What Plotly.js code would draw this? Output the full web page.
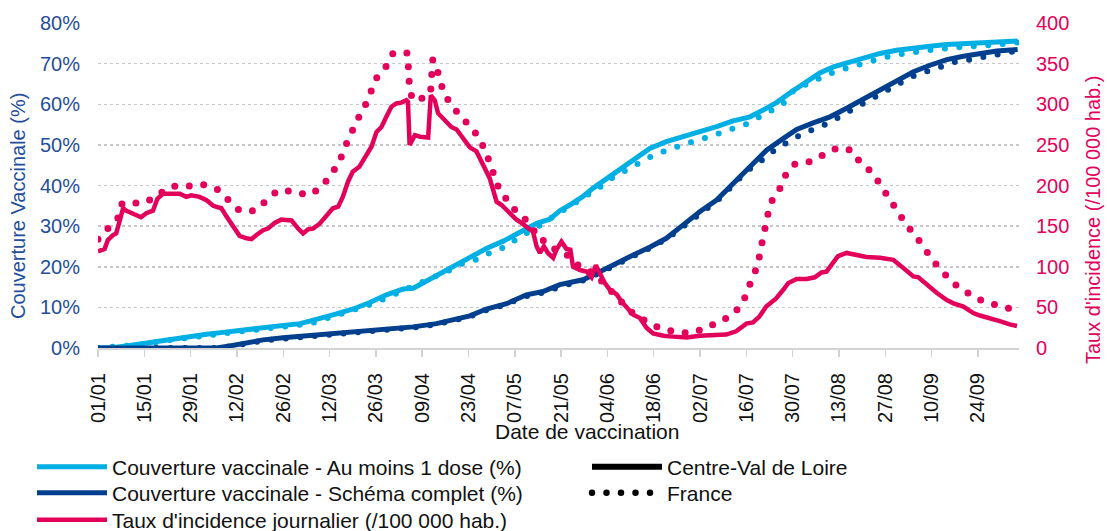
<!DOCTYPE html>
<html>
<head>
<meta charset="utf-8">
<script src="https://cdn.plot.ly/plotly-3.0.1.min.js"></script>
<style>
  html, body { margin: 0; padding: 0; background: #fff; }
  #chart { width: 1107px; height: 531px; }
</style>
</head>
<body>
<div id="chart"></div>
<script>
// jours comptés depuis le 01/01/2021
const incCvlDays = [0, 2, 3, 4.5, 5.5, 6.5, 7.6, 8.6, 10.6, 13, 14.6, 16.6, 18, 19.7, 21.7, 24.7, 26.7, 28.2, 30.7, 32.8, 34.8, 37.3, 38.8, 40.8, 42.8, 44.9, 46.4, 47.9, 49.9, 51.4, 53.4, 55.4, 57, 58.5, 60.5, 62, 63.5, 65, 67, 69, 71, 72.6, 74, 75.6, 77, 79, 81, 82.7, 84.2, 85.7, 87.2, 88.7, 90.2, 91.7, 93.2, 93.7, 94.2, 95.8, 97.3, 99.8, 100.6, 101.8, 102.8, 104.8, 106.8, 108.4, 110.4, 112.4, 114.4, 116.4, 118.4, 120.5, 122, 124, 126.5, 128, 130, 131.5, 132.6, 133.6, 134.8, 136, 137.6, 138.6, 140.1, 141.6, 142.8, 143.6, 145.7, 147.7, 149.2, 150.5, 151.7, 153.2, 154.7, 156.8, 158.3, 160.3, 161.8, 163.8, 165.8, 167.8, 170.9, 173.9, 177.9, 181.9, 186.9, 189.9, 192.9, 196, 198, 200, 202, 205, 207.2, 208.7, 211.2, 214.2, 216.7, 218.7, 220.2, 222.2, 223.7, 226.3, 229.3, 232.3, 236.4, 240.4, 242.4, 244.5, 246.5, 248, 250.5, 253.5, 256.6, 258.6, 261.6, 264.6, 266.6, 269.6, 272.6, 275.6, 277.8];
const incCvl = [119, 122, 133, 139, 141, 158, 172, 169, 165, 161, 166, 169, 184, 190, 190, 190, 186, 188, 186, 182, 175, 172, 162, 150, 138, 135, 134, 139, 145, 147, 154, 158, 157, 157, 147, 141, 146, 147, 153, 162, 172, 174, 186, 205, 217, 223, 237, 248, 266, 272, 285, 297, 301, 302, 305, 303, 250, 262, 260, 259, 311, 305, 289, 281, 272, 269, 258, 247, 242, 225, 209, 180, 176, 168, 158, 154, 147, 143, 125, 117, 125, 117, 111, 121, 131, 122, 121, 100, 96, 94, 87, 102, 92, 80, 72, 66, 57, 47, 41, 37, 25, 18, 15, 14, 13, 15, 15.5, 16.5, 20.5, 30, 31.5, 39, 51, 61, 72, 80, 85, 85, 87, 93, 94, 105, 113, 117, 115, 112, 111, 108.5, 102, 94, 88, 87, 78, 68, 59, 55, 51, 43, 40, 37, 33, 29, 27];

const incFrDays = [0, 3.3, 6, 7.3, 10, 14.4, 18.1, 22.4, 27, 31.8, 36.1, 39.5, 42.8, 47.4, 50.9, 54.4, 59, 63.5, 67.5, 70.3, 72.9, 74.6, 76.4, 78.4, 80.6, 82.4, 84.3, 87, 89.2, 93.6, 93.9, 94.1, 95, 97.8, 100.5, 101.2, 102, 104.3, 106.5, 109.6, 112.6, 115.4, 117.2, 119, 120.2, 122.5, 124.9, 127.9, 131, 133.5, 135.2, 138, 141, 144, 147, 150, 153, 156, 158.5, 161, 164.8, 169, 173.7, 178.4, 183, 187.3, 191.5, 194.3, 196, 197.6, 199.4, 200.3, 201.2, 202, 203.2, 205.8, 207.5, 210.4, 214.9, 219.2, 223.5, 227.8, 230.5, 234.1, 236.7, 239.2, 241.7, 244.3, 247.2, 249.7, 252.6, 255.5, 258.8, 262.8, 266.8, 271.4, 275.9, 278];
const incFr = [134, 147, 160, 178, 178, 179, 189, 199, 199, 201, 195, 182, 169, 169, 182, 194, 193, 188, 197, 214, 228, 247, 264, 281, 297, 315, 333, 346, 363, 363, 344, 325, 305, 307, 313, 355, 350, 317, 300, 287, 272, 258, 240, 223, 204, 190, 174, 164, 150, 133, 132, 122, 118, 105, 97, 92, 80, 66, 55, 45, 35, 26, 20.5, 18.4, 23, 31.5, 40, 52, 66, 85, 101, 121, 140, 159, 178, 193, 211, 226, 229, 237.5, 246.5, 243.6, 228, 216, 200, 183, 168, 152, 138, 122, 106.5, 93, 79, 68, 59, 53, 48, 46];

const dose1CvlDays = [0, 5, 9.6, 14.6, 18.6, 23.7, 27.7, 32.8, 37.8, 42.8, 47.9, 53.9, 61, 64, 68, 72.1, 77.1, 82.2, 87.2, 92.2, 95.3, 97.3, 102.3, 107.4, 112.4, 117.4, 122.5, 127.5, 132.6, 136.6, 139.6, 142.6, 146.6, 149.6, 154.7, 158.7, 162.8, 166.8, 171.8, 176.9, 182, 187, 192, 197.1, 201.1, 205.1, 209.2, 212.2, 215.2, 218.2, 222.3, 226.3, 231.3, 236.4, 241.4, 246.5, 251.5, 256.6, 261.6, 266.7, 271.7, 278];
const dose1Cvl = [0, 0.1, 0.6, 1.2, 1.9, 2.5, 3.0, 3.4, 3.85, 4.3, 4.7, 5.3, 6.0, 6.6, 7.4, 8.4, 9.6, 11.2, 13.1, 14.5, 14.7, 15.6, 17.6, 19.9, 22.1, 24.5, 26.3, 28.5, 30.7, 31.7, 33.8, 35.2, 37.3, 39.3, 42.3, 44.6, 47.1, 49.1, 50.8, 52, 53.2, 54.5, 55.9, 56.9, 58.6, 60.4, 62.8, 64.5, 66.1, 67.7, 69.2, 70.2, 71.4, 72.5, 73.3, 73.9, 74.3, 74.7, 74.9, 75.2, 75.4, 75.6];

const dose1FrDays = [0, 10, 15, 20, 25, 30, 35, 40, 45, 50, 55, 60, 65, 71.1, 76.1, 84.1, 88.7, 93.2, 97.8, 101.8, 106.4, 110.7, 114.9, 119.4, 123.5, 127.5, 131.5, 135.6, 138.6, 143.1, 147.2, 151.2, 155.3, 159.3, 163.3, 167.6, 172, 176.6, 181.2, 185.8, 190.2, 194.8, 199, 202.9, 207, 210.4, 214.7, 218.7, 223.3, 227.6, 232, 236.8, 241.4, 246.2, 250.8, 255.5, 260.1, 264.6, 269.2, 273.2, 278];
const dose1Fr = [0, 0.5, 1.0, 1.8, 2.4, 2.9, 3.3, 3.8, 4.2, 4.6, 5.1, 5.6, 6.2, 7.8, 8.8, 11.2, 12.9, 14.5, 16, 17.2, 19.2, 21, 21.9, 23.8, 25, 27.4, 29.1, 31.3, 32.8, 35.2, 37.5, 39.3, 41.8, 43.7, 45.6, 47.3, 48.7, 50.1, 51.2, 52.2, 53.6, 54.6, 56.4, 58.4, 60.0, 63.5, 65.3, 66.6, 68.2, 69.2, 70.4, 71.3, 72.2, 72.9, 73.3, 73.7, 74.1, 74.3, 74.5, 74.8, 75.2];

const fullCvlDays = [0, 35.8, 39.8, 43.9, 49.9, 55.9, 62, 68, 77.1, 87.2, 95.3, 102.3, 107.4, 112.4, 117.4, 123.5, 129.5, 134.5, 139.6, 146.6, 151.7, 156.8, 161.8, 166.8, 171.8, 176.9, 182, 187, 192, 197.1, 202.1, 207.2, 211.2, 216.2, 221.3, 226.3, 231.3, 236.4, 241.4, 246.5, 251.5, 256.6, 261.6, 266.7, 271.7, 278];
const fullCvl = [0, 0.0, 0.5, 1.2, 2.0, 2.5, 2.9, 3.3, 3.85, 4.5, 5.2, 6.0, 7.0, 7.9, 9.6, 10.9, 13.1, 13.9, 15.6, 16.8, 18.8, 20.7, 22.9, 24.8, 27, 30.3, 33.6, 36.4, 40.5, 44.6, 48.7, 51.6, 53.8, 55.4, 56.9, 59, 61.2, 63.5, 65.5, 68, 69.6, 71, 71.8, 72.5, 73.1, 73.5];

const fullFrDays = [0, 36, 40, 44, 50, 56, 62, 68, 77, 87, 95, 102, 107, 112, 117, 123, 129, 134.5, 140, 146.6, 151.7, 156.8, 161.8, 166.8, 171.8, 176.9, 182, 187, 192, 196, 200.2, 204.2, 208.3, 212.2, 216.2, 220.8, 225, 229, 233.3, 237.5, 241.4, 245.4, 250.2, 254.5, 259.1, 263.6, 268.7, 273.2, 278];
const fullFr = [0, 0, 0.4, 1.0, 1.8, 2.3, 2.7, 3.1, 3.6, 4.3, 5.0, 5.8, 6.7, 7.6, 9.2, 10.6, 12.7, 13.6, 15.2, 16.6, 18.5, 20.5, 22.7, 24.6, 26.8, 30.0, 33.2, 36.1, 40.1, 43.5, 45.9, 48.5, 50.6, 52.4, 53.8, 55.3, 57.3, 59, 61, 63, 64.7, 66.6, 68, 69.2, 70.4, 71, 71.8, 72.2, 73.2];

const cLight = '#00afe3';
const cDark = '#003f8e';
const cPink = '#e3005b';
const cAxisBlue = '#1f4e9c';
const dots = '0px,14.5px';

// jour -> date (chaîne lisible par plotly)
function toDate(n) {
    const d = new Date(Date.UTC(2021, 0, 1) + n * 86400000);
    return d.toISOString().slice(0, 16).replace('T', ' ');
}
const dates = arr => arr.map(toDate);

const traces = [
    { x: dates(dose1FrDays), y: dose1Fr, mode: 'lines', line: { color: cLight, width: 6, dash: dots }, showlegend: false },
    { x: dates(fullFrDays), y: fullFr, mode: 'lines', line: { color: cDark, width: 6, dash: dots }, showlegend: false },
    { x: dates(dose1CvlDays), y: dose1Cvl, mode: 'lines', name: 'Couverture vaccinale - Au moins 1 dose (%)', line: { color: cLight, width: 5 }, legend: 'legend' },
    { x: dates(fullCvlDays), y: fullCvl, mode: 'lines', name: 'Couverture vaccinale - Schéma complet (%)', line: { color: cDark, width: 5 }, legend: 'legend2' },
    { x: dates(incFrDays), y: incFr, yaxis: 'y2', mode: 'lines', line: { color: cPink, width: 7, dash: dots }, showlegend: false },
    { x: dates(incCvlDays), y: incCvl, yaxis: 'y2', mode: 'lines', name: "Taux d'incidence journalier (/100 000 hab.)", line: { color: cPink, width: 4.5 }, legend: 'legend3' },
    // entrées de légende seulement
    { x: [null], y: [null], mode: 'lines', name: 'Centre-Val de Loire', line: { color: '#000', width: 6 }, legend: 'legend4' },
    { x: [null], y: [null], mode: 'lines', name: 'France', line: { color: '#000', width: 6.5, dash: dots }, legend: 'legend5' }
];

const fontFam = '"Liberation Sans", Arial, sans-serif';
const legendFont = { family: fontFam, size: 21, color: '#111' };

// une légende par ligne pour placer chaque entrée
function legendAt(px, py) {
    return {
        xref: 'container', yref: 'container',
        x: px / 1107, y: 1 - py / 531,
        xanchor: 'left', yanchor: 'middle',
        orientation: 'v',
        itemwidth: 70,
        bgcolor: 'rgba(0,0,0,0)',
        borderwidth: 0,
        font: legendFont
    };
}

const layout = {
    width: 1107,
    height: 531,
    margin: { l: 98, r: 88, t: 23, b: 183, pad: 0, autoexpand: false },
    paper_bgcolor: '#fff',
    plot_bgcolor: '#fff',
    font: { family: fontFam, size: 20, color: '#111' },
    showlegend: true,
    xaxis: {
        type: 'date',
        range: ['2021-01-01', '2021-10-06 10:00'],
        tick0: '2021-01-01',
        dtick: 14 * 86400000,
        tickformat: '%d/%m',
        tickangle: -90,
        ticks: 'outside',
        ticklen: 7,
        tickwidth: 1.5,
        tickcolor: '#d3d3d3',
        ticklabelstandoff: 8,
        showline: true,
        linecolor: '#d3d3d3',
        linewidth: 2,
        showgrid: false,
        zeroline: false,
        tickfont: { size: 20, color: '#111' }
    },
    yaxis: {
        range: [0, 80],
        dtick: 10,
        ticksuffix: '%',
        showgrid: true,
        gridcolor: '#c6c6c6',
        griddash: 'dot',
        gridwidth: 1.5,
        zeroline: false,
        ticks: '',
        ticklabelstandoff: 17,
        tickfont: { size: 20, color: cAxisBlue }
    },
    yaxis2: {
        overlaying: 'y',
        side: 'right',
        range: [0, 400],
        dtick: 50,
        showgrid: false,
        zeroline: false,
        ticks: '',
        ticklabelstandoff: 16,
        tickfont: { size: 20, color: cPink }
    },
    annotations: [
        { text: 'Date de vaccination', xref: 'paper', yref: 'paper', x: (587 - 98) / 921, y: -(431 - 348) / 325,
          showarrow: false, xanchor: 'center', yanchor: 'middle', font: { size: 21, color: '#111' } },
        { text: 'Couverture Vaccinale (%)', xref: 'paper', yref: 'paper', x: (18 - 98) / 921, y: (348 - 206) / 325,
          textangle: -90, showarrow: false, xanchor: 'center', yanchor: 'middle', font: { size: 20, color: cAxisBlue } },
        { text: "Taux d'incidence (/100 000 hab.)", xref: 'paper', yref: 'paper', x: (1093 - 98) / 921, y: (348 - 220) / 325,
          textangle: -90, showarrow: false, xanchor: 'center', yanchor: 'middle', font: { size: 20, color: cPink } }
    ],
    legend: legendAt(32, 467),
    legend2: legendAt(32, 493),
    legend3: legendAt(32, 520),
    legend4: legendAt(587, 467),
    legend5: legendAt(587, 493)
};

// pointillés ronds comme dans Excel
function roundDots() {
    document.querySelectorAll('#chart path').forEach(p => {
        const da = p.style.strokeDasharray;
        if (da && da.trim().startsWith('0')) {
            p.style.strokeLinecap = 'round';
        }
    });
}

const gd = document.getElementById('chart');
Plotly.newPlot(gd, traces, layout, { staticPlot: true }).then(() => {
    roundDots();
    gd.on('plotly_afterplot', roundDots);
});
</script>
</body>
</html>
